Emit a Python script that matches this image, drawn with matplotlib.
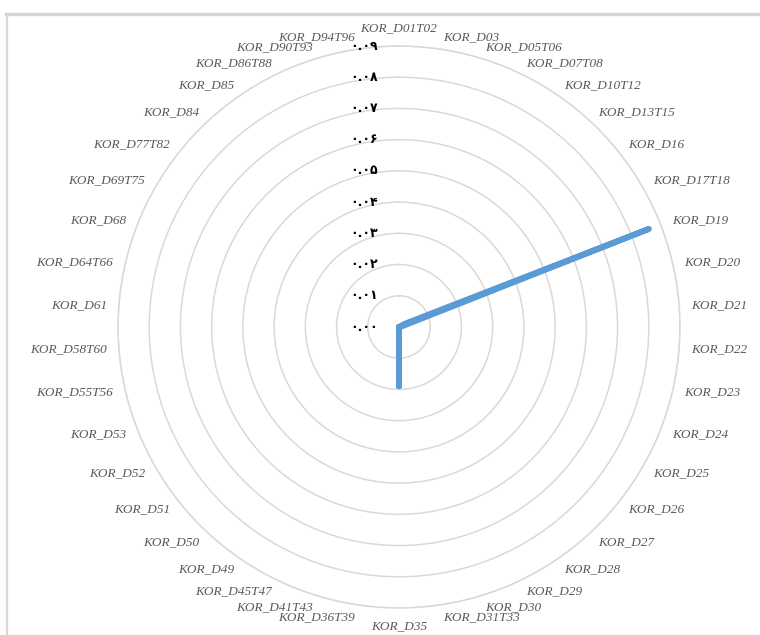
import numpy as np
import matplotlib
matplotlib.use("Agg")
import matplotlib.pyplot as plt
from matplotlib.lines import Line2D

categories = [
    "KOR_D01T02", "KOR_D03", "KOR_D05T06", "KOR_D07T08", "KOR_D10T12",
    "KOR_D13T15", "KOR_D16", "KOR_D17T18", "KOR_D19", "KOR_D20",
    "KOR_D21", "KOR_D22", "KOR_D23", "KOR_D24", "KOR_D25",
    "KOR_D26", "KOR_D27", "KOR_D28", "KOR_D29", "KOR_D30",
    "KOR_D31T33", "KOR_D35", "KOR_D36T39", "KOR_D41T43", "KOR_D45T47",
    "KOR_D49", "KOR_D50", "KOR_D51", "KOR_D52", "KOR_D53",
    "KOR_D55T56", "KOR_D58T60", "KOR_D61", "KOR_D64T66", "KOR_D68",
    "KOR_D69T75", "KOR_D77T82", "KOR_D84", "KOR_D85", "KOR_D86T88",
    "KOR_D90T93", "KOR_D94T96",
]

values = [
    0.0, 0.0, 0.0, 0.0, 0.0,
    0.0, 0.0, 0.002, 0.086, 0.001,
    0.0, 0.0, 0.0, 0.0, 0.0,
    0.0, 0.0, 0.0, 0.0, 0.0,
    0.0, 0.019, 0.0, 0.0, 0.0,
    0.0, 0.0, 0.0, 0.0, 0.0,
    0.0, 0.0, 0.0, 0.0, 0.0,
    0.0, 0.0, 0.0, 0.0, 0.0,
    0.0, 0.0,
]

ring_values = [0.00, 0.01, 0.02, 0.03, 0.04, 0.05, 0.06, 0.07, 0.08, 0.09]
ring_labels = ["۰.۰۰", "۰.۰۱", "۰.۰۲", "۰.۰۳", "۰.۰۴",
               "۰.۰۵", "۰.۰۶", "۰.۰۷", "۰.۰۸", "۰.۰۹"]

r_max = 0.09
grid_color = "#D9D9D9"
line_color = "#5B9BD5"
label_color = "#595959"

fig = plt.figure(figsize=(7.6, 6.35), dpi=100)
fig.patch.set_facecolor("white")

# outer chart frame (top and left edges)
fig.add_artist(Line2D([6 / 760, 1.0], [1 - 14 / 635, 1 - 14 / 635],
                      color="#D4D4D4", lw=2.4, transform=fig.transFigure))
fig.add_artist(Line2D([7 / 760, 7 / 760], [0.0, 1 - 14 / 635],
                      color="#D9D9D9", lw=1.6, transform=fig.transFigure))

cx, cy, rad = 399, 635 - 327, 281
ax = fig.add_axes([(cx - rad) / 760, (cy - rad) / 635, 2 * rad / 760, 2 * rad / 635],
                  projection="polar")
ax.set_theta_zero_location("N")
ax.set_theta_direction(-1)
ax.set_ylim(0, r_max)

n = len(categories)
angles = np.arange(n) * 2 * np.pi / n

# concentric gridlines
ax.set_yticks(ring_values[1:])
ax.set_yticklabels([])
ax.set_xticks([])
ax.yaxis.grid(True, color=grid_color, lw=1.1)
ax.xaxis.grid(False)
ax.spines["polar"].set_color(grid_color)
ax.spines["polar"].set_linewidth(1.1)
ax.set_facecolor("none")

# data line, closed around the circle
th = np.concatenate([angles, angles[:1]])
vv = np.concatenate([values, values[:1]])
ax.plot(th, vv, color=line_color, lw=4.2, solid_joinstyle="round",
        solid_capstyle="round", zorder=5)

# radial value labels along the vertical axis
for rv, rl in zip(ring_values, ring_labels):
    ax.annotate(rl, xy=(0, rv), xytext=(-15, 0), textcoords="offset points",
                ha="right", va="center", fontsize=9, fontweight="bold",
                color="black", family="DejaVu Sans", annotation_clip=False)

# category labels around the circle
r_lab = r_max * 293 / 281
for a, name in zip(angles, categories):
    s, c = np.sin(a), np.cos(a)
    if s > 0.05:
        ha = "left"
    elif s < -0.05:
        ha = "right"
    else:
        ha = "center"
    if abs(s) <= 0.05:
        va = "bottom" if c > 0 else "top"
    else:
        va = "center"
    ax.text(a, r_lab, name, ha=ha, va=va, fontsize=9.5, style="italic",
            family="Liberation Serif", color=label_color, clip_on=False)

fig.savefig("out.png", dpi=100, facecolor="white")
